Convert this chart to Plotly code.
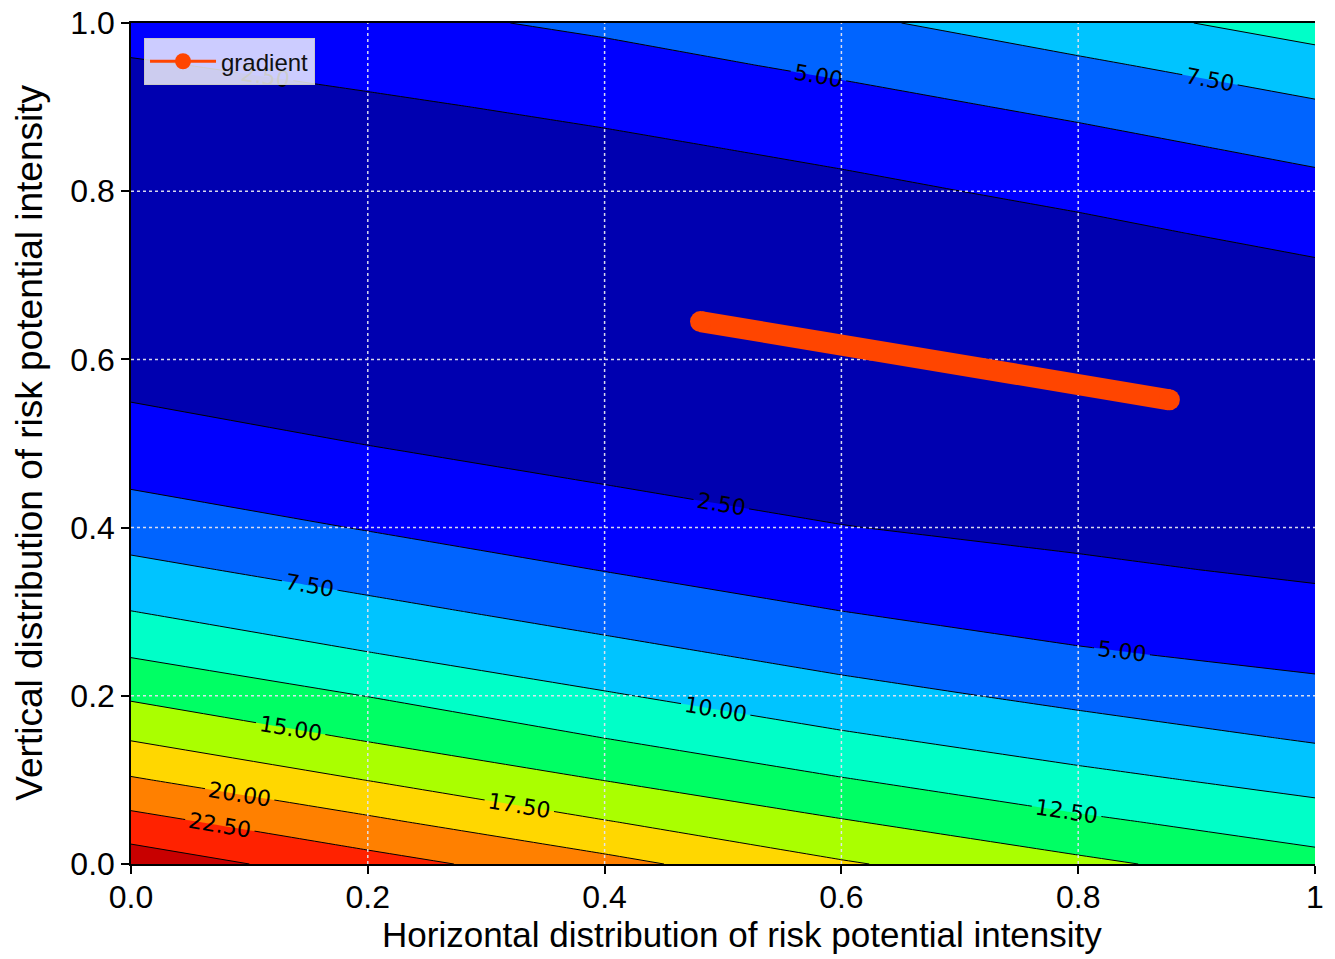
import plotly.graph_objects as go

# ---- grid of the risk-potential field ----
x_vals = [0.0, 0.2, 0.4, 0.6, 0.8, 1.0]
y_vals = [0.00, 0.05, 0.10, 0.15, 0.20, 0.25, 0.30, 0.35, 0.40, 0.45, 0.50,
          0.55, 0.60, 0.65, 0.70, 0.75, 0.80, 0.85, 0.90, 0.95, 1.00]

# z along y (bottom -> top) for each x column
z_x00 = [26.5, 23.33, 20.24, 17.29, 14.66, 12.28, 10.04, 8.09, 6.39, 4.86, 3.67,
         2.48, 1.68, 1.09, 0.74, 0.60, 0.69, 1.00, 1.54, 2.30, 3.44]
z_x02 = [23.5, 20.48, 17.45, 14.75, 12.45, 10.09, 8.17, 6.45, 4.87, 3.66, 2.45,
         1.68, 1.11, 0.75, 0.60, 0.67, 0.94, 1.42, 2.12, 3.15, 4.35]
z_x04 = [20.75, 17.63, 14.95, 12.48, 10.23, 8.27, 6.53, 4.93, 3.71, 2.52, 1.72,
         1.14, 0.77, 0.61, 0.65, 0.90, 1.35, 2.01, 2.99, 4.20, 5.43]
z_x06 = [17.76, 15.20, 12.65, 10.36, 8.37, 6.62, 5.02, 3.79, 2.56, 1.76, 1.17,
         0.79, 0.61, 0.65, 0.89, 1.33, 1.99, 2.96, 4.16, 5.46, 7.00]
z_x08 = [15.55, 12.97, 10.69, 8.68, 6.88, 5.23, 4.01, 2.86, 1.92, 1.27, 0.83,
         0.62, 0.63, 0.87, 1.32, 2.00, 3.00, 4.17, 5.48, 7.08, 8.97]
z_x10 = [13.38, 11.18, 9.12, 7.26, 5.69, 4.36, 3.21, 2.15, 1.40, 0.90, 0.64,
         0.62, 0.86, 1.34, 2.06, 3.10, 4.26, 5.57, 7.15, 9.00, 11.08]

contour_start = 2.5
contour_end = 25.0
contour_step = 2.5

band_colors = ["#0000B0", "#0000FF", "#0064FF", "#00C4FF", "#00FFC8", "#00FF64",
               "#AAFF00", "#FFD700", "#FF8000", "#FF2200", "#C80000"]

# gradient path (start, end)
grad_x = [0.481, 0.877]
grad_y = [0.645, 0.552]

x_tick_vals = [0.0, 0.2, 0.4, 0.6, 0.8, 1.0]
x_tick_text = ["0.0", "0.2", "0.4", "0.6", "0.8", "1"]
y_tick_vals = [0.0, 0.2, 0.4, 0.6, 0.8, 1.0]
y_tick_text = ["0.0", "0.2", "0.4", "0.6", "0.8", "1.0"]

x_title = "Horizontal distribution of risk potential intensity"
y_title = "Vertical distribution of risk potential intensity"

# ---- build ----
z = [list(r) for r in zip(z_x00, z_x02, z_x04, z_x06, z_x08, z_x10)]
n = len(band_colors) - 1
colorscale = [[k / n, c] for k, c in enumerate(band_colors)]

fig = go.Figure()
fig.add_trace(go.Contour(
    x=x_vals, y=y_vals, z=z,
    autocontour=False,
    contours=dict(start=contour_start, end=contour_end, size=contour_step,
                  coloring="fill", showlabels=True, labelformat=".2f",
                  labelfont=dict(size=22, color="black", family="DejaVu Sans")),
    line=dict(color="black", width=1, smoothing=0),
    colorscale=colorscale, showscale=False, hoverinfo="skip", showlegend=False,
))

# dotted grid drawn over the filled contours
gx, gy = [], []
for v in x_tick_vals[1:-1]:
    gx += [v, v, None]
    gy += [0, 1, None]
for v in y_tick_vals[1:-1]:
    gx += [0, 1, None]
    gy += [v, v, None]
fig.add_trace(go.Scatter(x=gx, y=gy, mode="lines", showlegend=False, hoverinfo="skip",
                         line=dict(color="rgba(228,228,240,0.95)", width=1.5, dash="dot")))

grad_color = "#FF4500"
fig.add_trace(go.Scatter(x=grad_x, y=grad_y, mode="lines+markers", showlegend=False,
                         line=dict(color=grad_color, width=21),
                         marker=dict(color=grad_color, size=21)))
fig.add_trace(go.Scatter(x=[None], y=[None], mode="lines+markers", name="gradient",
                         line=dict(color=grad_color, width=3),
                         marker=dict(color=grad_color, size=17)))

axis_font = dict(family="Liberation Sans, Arial", size=32, color="black")
fig.update_layout(
    width=1335, height=959,
    margin=dict(l=131, r=20, t=23, b=95, autoexpand=False),
    paper_bgcolor="white", plot_bgcolor="white",
    font=dict(family="Liberation Sans, Arial", color="black"),
    showlegend=True,
    legend=dict(x=0.011, y=0.982, xanchor="left", yanchor="top",
                bgcolor="rgba(255,255,255,0.8)", bordercolor="#C8C8C8", borderwidth=1,
                font=dict(family="Liberation Sans, Arial", size=24, color="#111"),
                itemwidth=66),
    xaxis=dict(range=[0, 1], tickvals=x_tick_vals, ticktext=x_tick_text,
               ticks="outside", ticklen=8, tickwidth=1.5, tickcolor="black",
               ticklabelstandoff=-4, ticklabeloverflow="allow",
               tickfont=axis_font, showline=True, linecolor="black", linewidth=1.5,
               mirror=True, showgrid=False, zeroline=False, automargin=False),
    yaxis=dict(range=[0, 1], tickvals=y_tick_vals, ticktext=y_tick_text,
               ticks="outside", ticklen=8, tickwidth=1.5, tickcolor="black",
               ticklabeloverflow="allow",
               tickfont=axis_font, showline=True, linecolor="black", linewidth=1.5,
               mirror=False, showgrid=False, zeroline=False, automargin=False),
    annotations=[
        dict(text=x_title, xref="paper", yref="paper", x=0.516, y=0, yshift=-70,
             xanchor="center", yanchor="middle", showarrow=False,
             font=dict(family="Liberation Sans, Arial", size=35, color="black")),
        dict(text=y_title, xref="paper", yref="paper", x=0, y=0.501, xshift=-101,
             xanchor="center", yanchor="middle", textangle=-90, showarrow=False,
             font=dict(family="Liberation Sans, Arial", size=37, color="black")),
    ],
)

fig.write_html(
    "out.html",
    config={"displayModeBar": False},
    post_script="document.body.style.margin='0';document.body.style.padding='0';"
                "document.documentElement.style.overflow='hidden';",
)
